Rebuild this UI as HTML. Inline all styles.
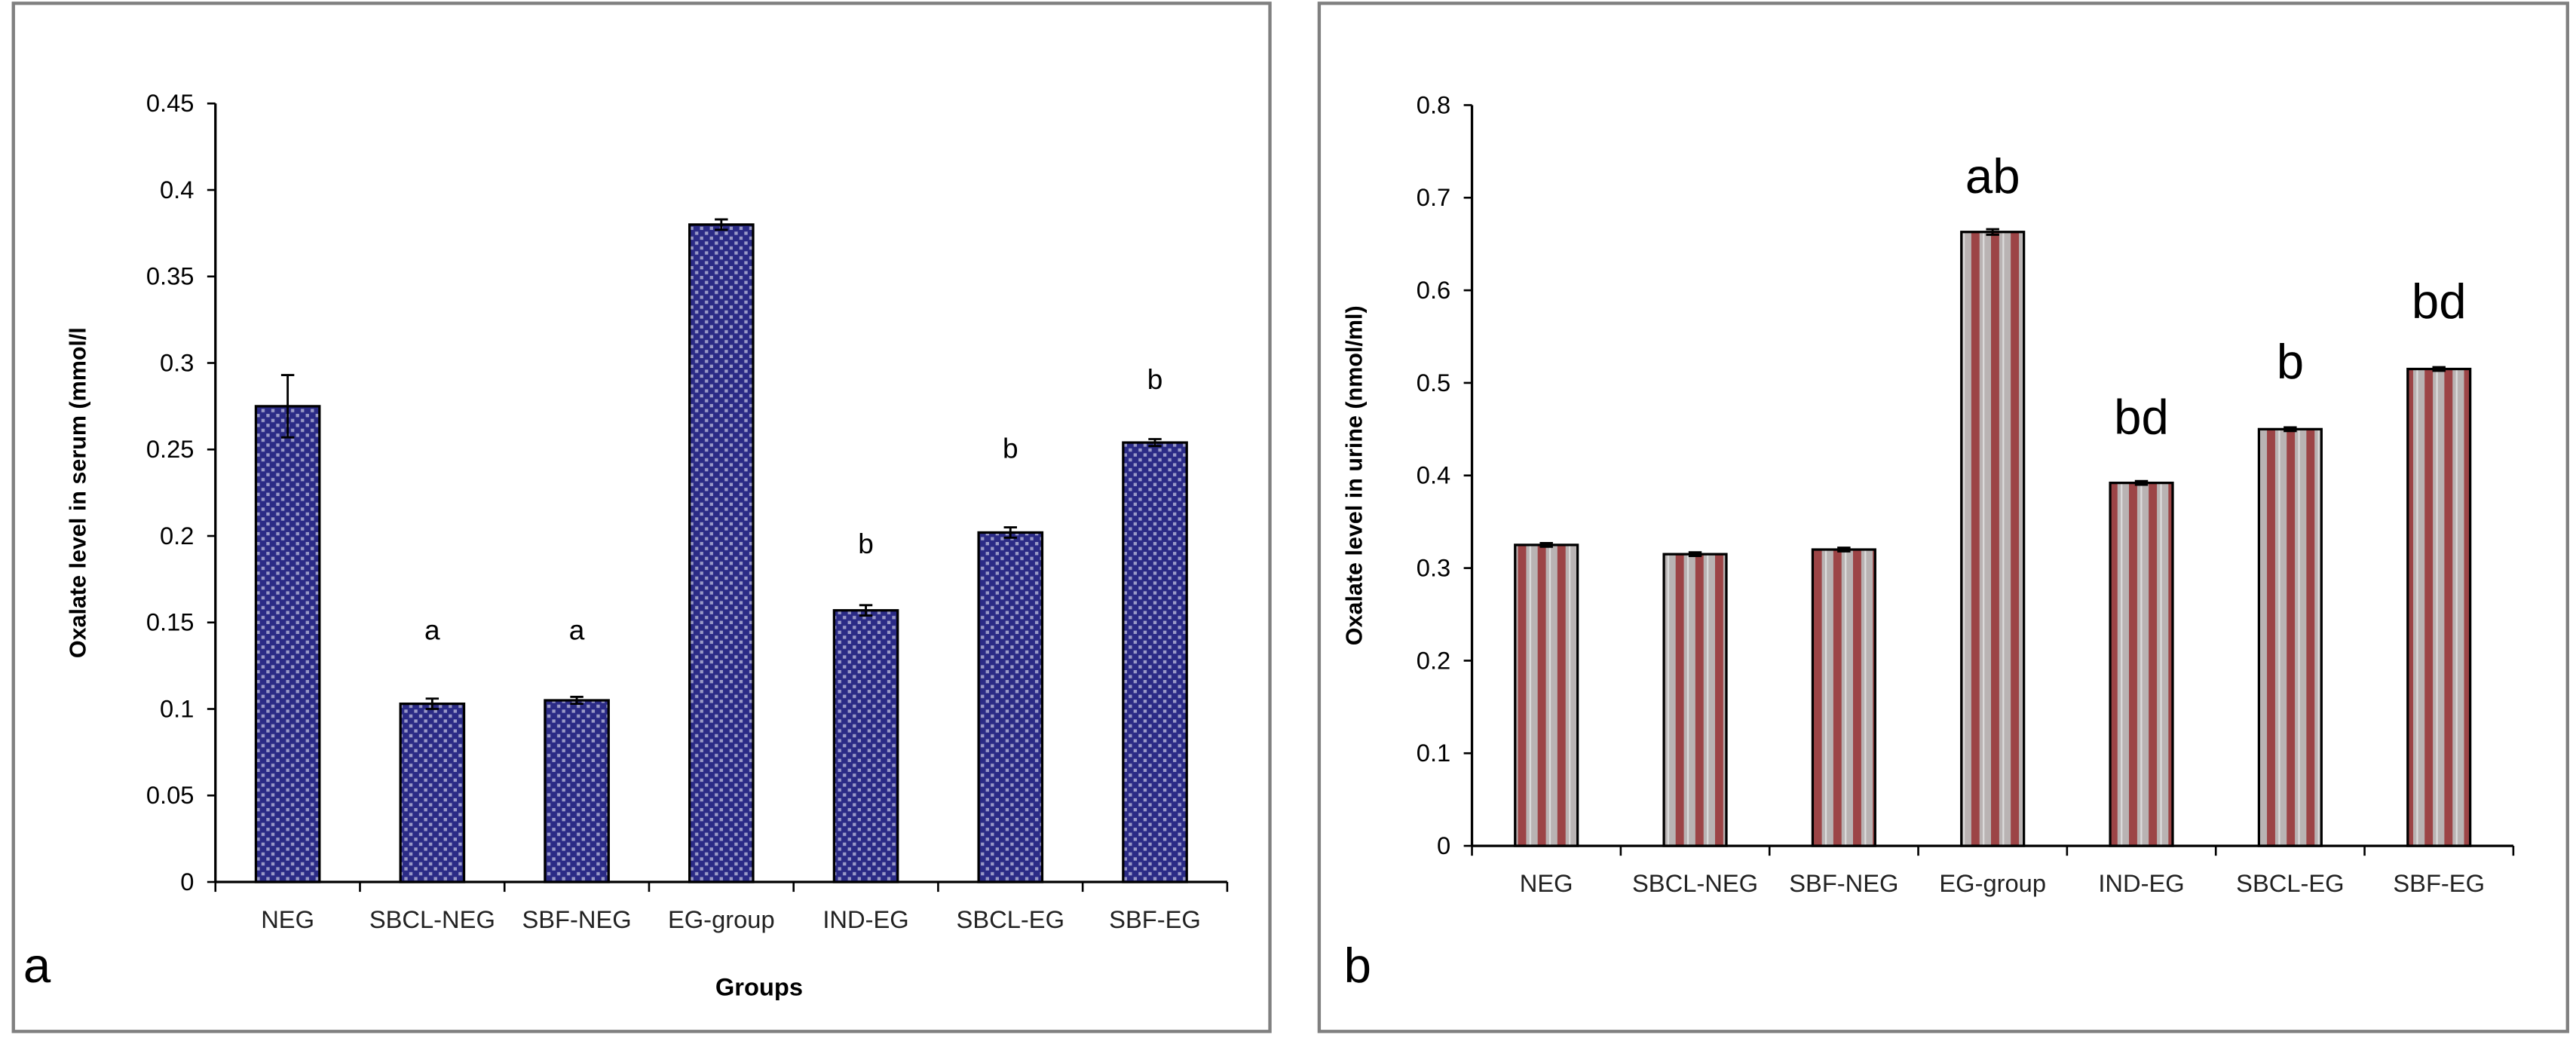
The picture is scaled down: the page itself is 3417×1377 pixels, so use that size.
<!DOCTYPE html>
<html><head><meta charset="utf-8"><style>
html,body{margin:0;padding:0;background:#fff;}
svg{display:block;font-family:"Liberation Sans",sans-serif;}
</style></head><body>
<svg id="fig" width="3417" height="1377" viewBox="0 0 1568 632" xmlns="http://www.w3.org/2000/svg">
<defs>
<pattern id="chk" width="6" height="6" patternUnits="userSpaceOnUse">
<rect width="6" height="6" fill="#2b2b86"/>
<rect x="0" y="0" width="2" height="2" fill="#9a9ac8"/>
<rect x="3" y="3" width="2" height="2" fill="#9a9ac8"/>
</pattern>
<pattern id="strp" width="12" height="10" patternUnits="userSpaceOnUse">
<rect width="12" height="10" fill="#b9b3b3"/>
<rect x="0" width="5" height="10" fill="#9c4446"/>
<rect x="7" width="1" height="10" fill="#ddd"/>
</pattern>
</defs>
<rect x="8" y="2" width="765" height="626" fill="none" stroke="#808080" stroke-width="2"/>
<rect x="803" y="2" width="760" height="626" fill="none" stroke="#808080" stroke-width="2"/>
<g id="chartA"></g>
<g id="chartB"></g>
<text x="14" y="598" font-size="30">a</text>
<text x="818" y="598" font-size="30">b</text>
<text x="462" y="606" font-size="15" font-weight="bold" text-anchor="middle">Groups</text>
</svg>
<script>
const categories = ["NEG","SBCL-NEG","SBF-NEG","EG-group","IND-EG","SBCL-EG","SBF-EG"];
const serumValues = [0.275,0.103,0.105,0.380,0.157,0.202,0.254];
const serumErrors = [0.018,0.003,0.002,0.003,0.003,0.003,0.002];
const serumLetters = ["","a","a","","b","b","b"];
const serumLetterLevels = [0,0.14,0.14,0,0.19,0.245,0.285];
const serumTicks = ["0","0.05","0.1","0.15","0.2","0.25","0.3","0.35","0.4","0.45"];
const urineValues = [0.325,0.315,0.320,0.663,0.392,0.450,0.515];
const urineErrors = [0.002,0.002,0.002,0.003,0.002,0.002,0.002];
const urineLetters = ["","","","ab","bd","b","bd"];
const urineLetterLevels = [0,0,0,0.705,0.445,0.505,0.57];
const urineTicks = ["0","0.1","0.2","0.3","0.4","0.5","0.6","0.7","0.8"];

const NS="http://www.w3.org/2000/svg";
function mk(parent,tag,attrs,text){const e=document.createElementNS(NS,tag);for(const k in attrs)e.setAttribute(k,attrs[k]);if(text!==undefined)e.textContent=text;parent.appendChild(e);return e;}

function draw(g,cfg){
  const {x0,x1,y0,yTop,max,vals,errs,letters,levels,ticks,fill,title,letterSize,barFrac,tickStep}=cfg;
  const ys=v=>y0-(v/max)*(y0-yTop);
  const cw=(x1-x0)/categories.length;
  const xc=i=>x0+cw*(i+0.5);
  let l=mk(g,"line",{x1:x0,y1:yTop,x2:x0,y2:y0,stroke:"#000","stroke-width":1.5});
  
  
  l=mk(g,"line",{x1:x0,y1:y0,x2:x1,y2:y0,stroke:"#000","stroke-width":1.5});
  
  
  ticks.forEach((t,i)=>{
    const y=ys(i*tickStep);
    mk(g,"line",{x1:x0-5,y1:y,x2:x0,y2:y,stroke:"#000","stroke-width":1.2});
    const tx=mk(g,"text",{x:x0-13,y:y+5,"font-size":15,"text-anchor":"end"},t);
    
    
  });
  for(let i=0;i<=categories.length;i++){mk(g,"line",{x1:x0+cw*i,y1:y0,x2:x0+cw*i,y2:y0+6,stroke:"#000","stroke-width":1.2});}
  categories.forEach((c,i)=>{
    const bw=cw*barFrac, y=ys(vals[i]);
    const r=mk(g,"rect",{x:xc(i)-bw/2,y:y,width:bw,height:y0-y,fill:fill,stroke:"#000","stroke-width":1.5});
    
    
    const e1=ys(vals[i]+errs[i]), e2=ys(vals[i]-errs[i]);
    const eb=mk(g,"path",{d:`M${xc(i)} ${e1}V${e2}M${xc(i)-4} ${e1}H${xc(i)+4}M${xc(i)-4} ${e2}H${xc(i)+4}`,stroke:"#000","stroke-width":1.3,fill:"none"});
    
    
    const xl=mk(g,"text",{x:xc(i),y:y0+28,"font-size":15,"text-anchor":"middle",fill:"#222"},c);
    
    
    if(letters[i]){
      const lt=mk(g,"text",{x:xc(i),y:ys(levels[i]),"font-size":letterSize,"text-anchor":"middle"},letters[i]);
      
      
    }
  });
  const ty=(yTop+y0)/2;
  const tt=mk(g,"text",{x:cfg.titleX,y:ty,"font-size":14,"font-weight":"bold","text-anchor":"middle",transform:`rotate(-90 ${cfg.titleX} ${ty})`},title);
  
  
}
draw(document.getElementById("chartA"),{x0:131,x1:747,y0:537,yTop:63,max:0.45,vals:serumValues,errs:serumErrors,letters:serumLetters,levels:serumLetterLevels,ticks:serumTicks,tickStep:0.05,fill:"url(#chk)",title:"Oxalate level in serum (mmol/l",letterSize:17,barFrac:0.44,titleX:52});
draw(document.getElementById("chartB"),{x0:896,x1:1530,y0:515,yTop:64,max:0.8,vals:urineValues,errs:urineErrors,letters:urineLetters,levels:urineLetterLevels,ticks:urineTicks,tickStep:0.1,fill:"url(#strp)",title:"Oxalate level in urine (nmol/ml)",letterSize:30,barFrac:0.42,titleX:829});
</script>
</body></html>
